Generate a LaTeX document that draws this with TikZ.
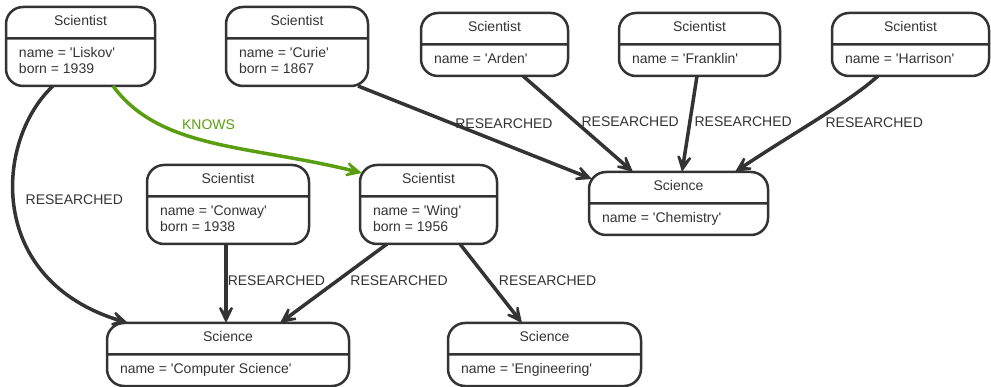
\documentclass[tikz,border=0pt]{standalone}
\usepackage{fontspec}
\setmainfont{Liberation Sans}[Ligatures=TeXOff]
\usetikzlibrary{arrows.meta, shapes.multipart}
\definecolor{ink}{HTML}{333333}
\definecolor{knows}{RGB}{88,158,16}

\begin{document}
\begin{tikzpicture}[
  x=1pt, y=-1pt,
  font=\fontsize{14}{16}\selectfont,
  entity/.style={draw=ink, line width=2.5pt, rounded corners=17pt, text=ink,
                 rectangle split, rectangle split parts=2,
                 rectangle split part align={center,left}, align=left,
                 inner xsep=13pt, inner ysep=6.5pt, outer sep=0pt,
                 anchor=north west, minimum width=#1},
  rel/.style={draw=ink, line width=3.5pt,
              -{Stealth[length=25pt, width=24pt, inset=16pt]}},
  lbl/.style={text=ink, inner sep=0pt, anchor=west}
]
  \useasboundingbox (0,0) rectangle (991,387);

  % Scientists
  \node[entity=149pt] (liskov) at (6,7)
    {\strut Scientist \nodepart{two} \strut name = 'Liskov'\\\strut born = 1939};
  \node[entity=142pt] (curie) at (226,7)
    {\strut Scientist \nodepart{two} \strut name = 'Curie'\\\strut born = 1867};
  \node[entity=147pt] (arden) at (421,13)
    {\strut Scientist \nodepart{two} \strut name = 'Arden'};
  \node[entity=161pt] (franklin) at (619,13)
    {\strut Scientist \nodepart{two} \strut name = 'Franklin'};
  \node[entity=157pt] (harrison) at (832,13)
    {\strut Scientist \nodepart{two} \strut name = 'Harrison'};
  \node[entity=162pt] (conway) at (147,165)
    {\strut Scientist \nodepart{two} \strut name = 'Conway'\\\strut born = 1938};
  \node[entity=137pt] (wing) at (360,165)
    {\strut Scientist \nodepart{two} \strut name = 'Wing'\\\strut born = 1956};

  % Sciences
  \node[entity=179pt] (chem) at (589,172)
    {\strut Science \nodepart{two} \strut name = 'Chemistry'};
  \node[entity=242pt] (cs) at (107,323)
    {\strut Science \nodepart{two} \strut name = 'Computer Science'};
  \node[entity=193pt] (eng) at (448,323)
    {\strut Science \nodepart{two} \strut name = 'Engineering'};

  % Relationships
  \draw[rel] ([xshift=-27.5pt]liskov.south) .. controls (-5,140) and (-15,280) .. ([xshift=-100pt]cs.north)
    node[lbl, pos=0.47, xshift=10pt] {RESEARCHED};
  \draw[rel, draw=knows] ([xshift=32.5pt]liskov.south) .. controls (160,150) and (250,145) .. ([shift={(2pt,-8pt)}]wing.north west)
    node[lbl, pos=0.3, xshift=14pt, yshift=3pt, text=knows] {KNOWS};
  \draw[rel] ([xshift=61pt]curie.south) -- ([shift={(3pt,-7pt)}]chem.north west)
    node[lbl, pos=0.4, xshift=2pt] {RESEARCHED};
  \draw[rel] ([xshift=28.5pt]arden.south) -- ([xshift=-45.5pt]chem.north)
    node[lbl, pos=0.48, xshift=4pt] {RESEARCHED};
  \draw[rel] ([xshift=-2.5pt]franklin.south) -- ([xshift=3.5pt]chem.north)
    node[lbl, pos=0.48, xshift=3pt] {RESEARCHED};
  \draw[rel] ([xshift=-32.5pt]harrison.south) .. controls (848,103) and (790,135) .. ([xshift=56.5pt]chem.north)
    node[lbl, pos=0.5, xshift=8pt, yshift=-2.5pt] {RESEARCHED};
  \draw[rel] ([xshift=-2pt]conway.south) -- ([xshift=-2pt]cs.north)
    node[lbl, pos=0.47] {RESEARCHED};
  \draw[rel] ([xshift=-41.5pt]wing.south) -- ([xshift=52pt]cs.north)
    node[lbl, pos=0.47, xshift=12pt] {RESEARCHED};
  \draw[rel] ([xshift=31.5pt]wing.south) -- ([xshift=-22.5pt]eng.north)
    node[lbl, pos=0.47, xshift=8pt] {RESEARCHED};
\end{tikzpicture}
\end{document}
